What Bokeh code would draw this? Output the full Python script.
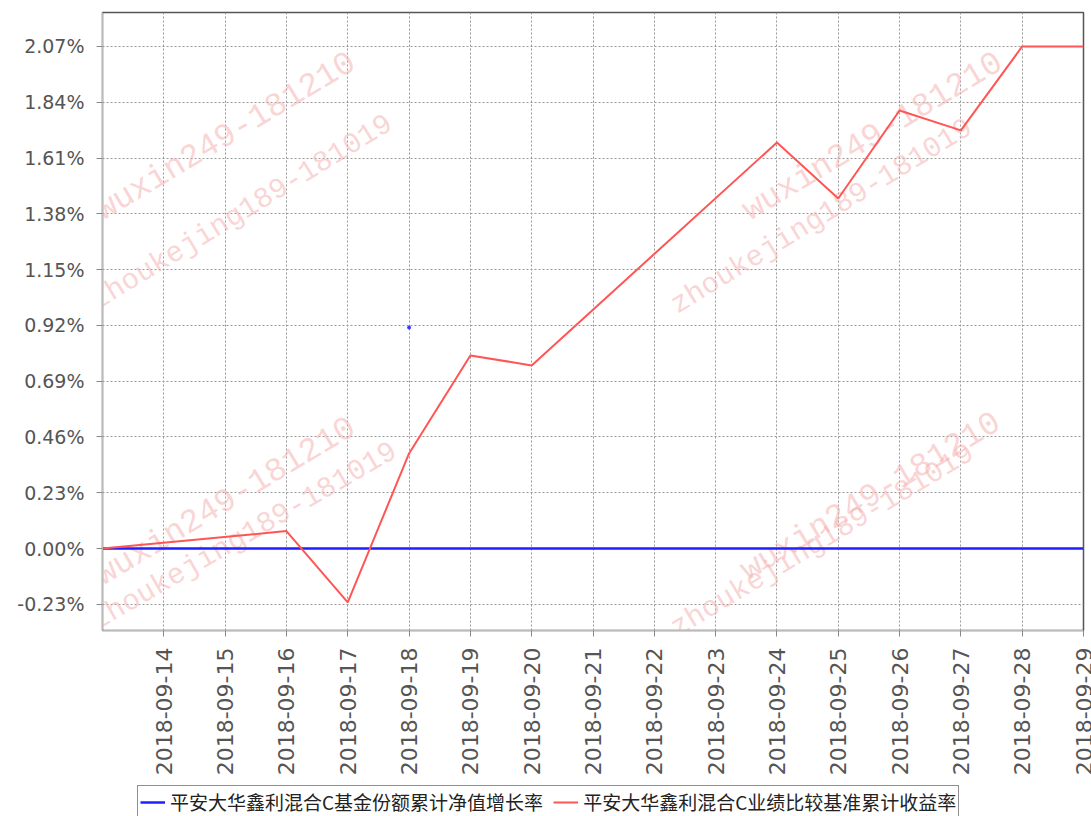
import math
from datetime import datetime
from bokeh.plotting import figure
from bokeh.layouts import column
from bokeh.models import (Range1d, FixedTicker, PrintfTickFormatter, DatetimeTickFormatter,
                          Legend, LegendItem, Label, ColumnDataSource)
from bokeh.embed import file_html
from bokeh.resources import INLINE

# ---------------- data ----------------
fund_dates = ["2018-09-13", "2018-09-16", "2018-09-17", "2018-09-18", "2018-09-19", "2018-09-20",
              "2018-09-24", "2018-09-25", "2018-09-26", "2018-09-27", "2018-09-28", "2018-09-29"]
fund_values = [0.0, 0.0, 0.0, 0.0, 0.0, 0.0, 0.0, 0.0, 0.0, 0.0, 0.0, 0.0]

bench_dates = ["2018-09-13", "2018-09-16", "2018-09-17", "2018-09-18", "2018-09-19", "2018-09-20",
               "2018-09-24", "2018-09-25", "2018-09-26", "2018-09-27", "2018-09-28", "2018-09-29"]
bench_values = [0.0, 0.072, -0.222, 0.392, 0.796, 0.755, 1.674, 1.443, 1.806, 1.724, 2.07, 2.07]

stray_dates = ["2018-09-18"]
stray_values = [0.911]

x_tick_dates = ["2018-09-14", "2018-09-15", "2018-09-16", "2018-09-17", "2018-09-18", "2018-09-19",
                "2018-09-20", "2018-09-21", "2018-09-22", "2018-09-23", "2018-09-24", "2018-09-25",
                "2018-09-26", "2018-09-27", "2018-09-28", "2018-09-29"]
y_ticks = [-0.23, 0.0, 0.23, 0.46, 0.69, 0.92, 1.15, 1.38, 1.61, 1.84, 2.07]

x_start, x_end = "2018-09-13", "2018-09-29"
y_start, y_end = -0.338, 2.21

fund_label = "平安大华鑫利混合C基金份额累计净值增长率"
bench_label = "平安大华鑫利混合C业绩比较基准累计收益率"

# watermark texts (page px of text start, font size, angle)
wm_texts = ["wuxin249-181210", "zhoukejing189-181019",
            "wuxin249-181210", "zhoukejing189-181019",
            "wuxin249-181210", "zhoukejing189-181019",
            "wuxin249-181210", "zhoukejing189-181019"]
wm_px = [98, 93, 745, 673, 98, 93, 743, 673]
wm_py = [213, 303, 213, 307, 578, 623, 573, 630]
wm_size = [33, 29, 33, 29, 33, 29, 33, 29]
wm_angle = [31.0, 31.5, 31.0, 31.5, 31.0, 30.0, 31.0, 31.0]


def d(s):
    return datetime.strptime(s, "%Y-%m-%d")


def ms(s):
    return (d(s) - datetime(1970, 1, 1)).total_seconds() * 1000.0


FRAME_LEFT, FRAME_BOTTOM = 102, 630
W = 1091
MAIN_H = 778
LEG_H = 816 - MAIN_H
FUND_COLOR, BENCH_COLOR = "#1f1fff", "#ff5555"

# ---------------- main figure ----------------
p = figure(width=W, height=MAIN_H, x_axis_type="datetime",
           x_range=Range1d(d(x_start), d(x_end)), y_range=Range1d(y_start, y_end),
           output_backend="svg", toolbar_location=None,
           min_border_left=FRAME_LEFT, min_border_right=8, min_border_top=12,
           min_border_bottom=MAIN_H - FRAME_BOTTOM)
p.background_fill_color = "white"
p.border_fill_color = "white"
p.outline_line_color = "#555555"
p.outline_line_width = 1.5

p.xaxis.ticker = FixedTicker(ticks=[ms(s) for s in x_tick_dates])
fmt = "%Y-%m-%d"
p.xaxis.formatter = DatetimeTickFormatter(days=fmt, months=fmt, years=fmt, hours=fmt,
                                          hourmin=fmt, minutes=fmt, minsec=fmt,
                                          seconds=fmt, milliseconds=fmt, microseconds=fmt)
p.xaxis.major_label_orientation = math.pi / 2
p.yaxis.ticker = FixedTicker(ticks=y_ticks)
p.yaxis.formatter = PrintfTickFormatter(format="%.2f%%")

for ax in (p.xaxis, p.yaxis):
    ax.axis_line_color = "#bbbbbb"
    ax.axis_line_width = 1
    ax.major_tick_line_color = "#888888"
    ax.major_tick_out = 6
    ax.major_tick_in = 0
    ax.minor_tick_line_color = None
    ax.major_label_text_color = "#555555"
    ax.major_label_text_font = "DejaVu Sans"
p.xaxis.major_label_text_font_size = "22px"
p.yaxis.major_label_text_font_size = "19px"
p.xaxis.major_label_standoff = 11
p.yaxis.major_label_standoff = 12

for g in (p.xgrid, p.ygrid):
    g.grid_line_color = "#999999"
    g.grid_line_dash = "2 2"
    g.grid_line_width = 1

# watermarks (screen units relative to the frame's bottom-left corner)
for t, px, py, fs, ang in zip(wm_texts, wm_px, wm_py, wm_size, wm_angle):
    p.add_layout(Label(x=px - FRAME_LEFT, y=FRAME_BOTTOM - py, x_units="screen", y_units="screen",
                       text=t, text_font="Liberation Mono", text_font_size=f"{fs}px",
                       text_color="#f5b0b0", text_alpha=0.55, angle=ang, angle_units="deg",
                       text_baseline="alphabetic", text_align="left", level="underlay"))

src_f = ColumnDataSource(dict(x=[d(s) for s in fund_dates], y=fund_values))
src_b = ColumnDataSource(dict(x=[d(s) for s in bench_dates], y=bench_values))
p.line("x", "y", source=src_f, line_color=FUND_COLOR, line_width=2.5)
p.line("x", "y", source=src_b, line_color=BENCH_COLOR, line_width=2)
p.scatter(x=[d(s) for s in stray_dates], y=stray_values, size=3, color="#3333ff")

# ---------------- legend strip (frame aligned with the main frame by the column) ----------------
lf = figure(width=W, height=LEG_H, x_range=Range1d(0, 1), y_range=Range1d(-100, -99),
            output_backend="svg", toolbar_location=None,
            x_axis_location=None, y_axis_location=None,
            min_border_left=FRAME_LEFT, min_border_right=8, min_border_top=0, min_border_bottom=0)
lf.xgrid.visible = False
lf.ygrid.visible = False
lf.outline_line_color = None
lf.background_fill_color = "white"
lf.border_fill_color = "white"
# same series drawn into ranges that keep them out of view; they only serve the legend glyphs
k_f = lf.line(x=[ms(s) for s in fund_dates], y=fund_values, line_color=FUND_COLOR, line_width=2.5)
k_b = lf.line(x=[ms(s) for s in bench_dates], y=bench_values, line_color=BENCH_COLOR, line_width=2)

legend = Legend(items=[LegendItem(label=fund_label, renderers=[k_f]),
                       LegendItem(label=bench_label, renderers=[k_b])],
                orientation="horizontal", location=(137 - FRAME_LEFT, -2),
                label_text_font="Noto Sans CJK SC", label_text_font_size="19px",
                label_text_color="#222222", border_line_color="#222222", border_line_width=1,
                background_fill_color="white", background_fill_alpha=1,
                padding=2, spacing=10, glyph_width=25, glyph_height=20, label_standoff=5,
                margin=0)
lf.add_layout(legend, "center")

layout = column(p, lf, spacing=0)
open("out.html", "w").write(file_html(layout, INLINE))
